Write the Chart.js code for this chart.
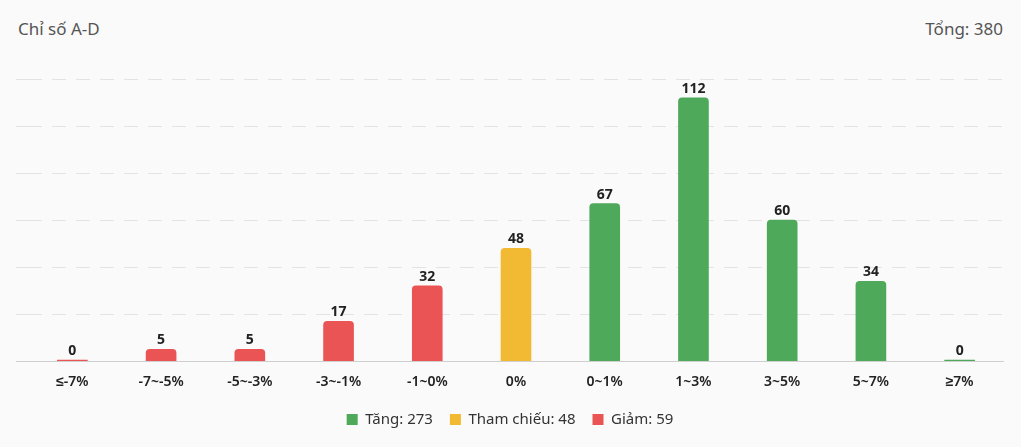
<!DOCTYPE html>
<html>
<head>
<meta charset="utf-8">
<script src="https://cdn.jsdelivr.net/npm/chart.js@4"></script>
<style>
  html, body { margin: 0; padding: 0; background: #fafafa; }
  .wrap { position: relative; width: 1021px; height: 447px; font-family: 'Noto Sans', sans-serif; }
  .head { position: absolute; top: 17px; font-size: 17px; color: #555; line-height: 23px; }
  #title { left: 18px; }
  #total { right: 18px; }
  canvas { position: absolute; left: 0; top: 0; }
</style>
</head>
<body>
<div class="wrap">
  <div class="head" id="title">Chỉ số A-D</div>
  <div class="head" id="total"></div>
  <canvas id="adChart" width="1021" height="447"></canvas>
</div>
<script>
const categories = ["≤-7%", "-7~-5%", "-5~-3%", "-3~-1%", "-1~0%", "0%", "0~1%", "1~3%", "3~5%", "5~7%", "≥7%"];
const upValues   = [null, null, null, null, null, null, 67, 112, 60, 34, 0];
const flatValues = [null, null, null, null, null, 48, null, null, null, null, null];
const downValues = [0, 5, 5, 17, 32, null, null, null, null, null, null];

const sum = (arr) => arr.reduce((acc, v) => acc + (v || 0), 0);
const upTotal = sum(upValues);
const flatTotal = sum(flatValues);
const downTotal = sum(downValues);
document.getElementById("total").textContent = "Tổng: " + (upTotal + flatTotal + downTotal);

Chart.defaults.font.family = "'Noto Sans', sans-serif";

// value labels above the bars
const valueLabels = {
  id: "valueLabels",
  afterDatasetsDraw(chart) {
    const ctx = chart.ctx;
    ctx.save();
    ctx.font = "bold 14px 'Noto Sans', sans-serif";
    ctx.fillStyle = "#222";
    ctx.textAlign = "center";
    ctx.textBaseline = "bottom";
    chart.data.datasets.forEach((ds, i) => {
      chart.getDatasetMeta(i).data.forEach((bar, j) => {
        if (ds.data[j] === null) return;
        ctx.fillText(ds.data[j], bar.x, bar.y - 2);
      });
    });
    ctx.restore();
  },
};

const barStyle = {
  barThickness: 30,
  minBarLength: 1,
  borderRadius: { topLeft: 4, topRight: 4 },
  borderSkipped: "bottom",
};

new Chart(document.getElementById("adChart"), {
  type: "bar",
  data: {
    labels: categories,
    datasets: [
      { label: "Tăng: " + upTotal, data: upValues, backgroundColor: "#4fa95b", ...barStyle },
      { label: "Tham chiếu: " + flatTotal, data: flatValues, backgroundColor: "#f2b933", ...barStyle },
      { label: "Giảm: " + downTotal, data: downValues, backgroundColor: "#eb5454", ...barStyle },
    ],
  },
  options: {
    responsive: false,
    animation: false,
    layout: { padding: { top: 79, left: 16, right: 17, bottom: 10 } },
    datasets: { bar: { skipNull: true } },
    scales: {
      x: {
        grid: { display: false, drawTicks: false },
        border: { display: false },
        ticks: { color: "#222", font: { size: 14, weight: "600" }, padding: 12 },
        afterFit: (scale) => { scale.height -= 7; },
      },
      y: {
        min: 0,
        max: 120,
        ticks: { display: false, stepSize: 20 },
        grid: {
          drawTicks: true,
          tickLength: 12,
          color: (c) => (c.tick && c.tick.value === 0 ? "#cfcfcf" : "#e3e3e3"),
        },
        border: {
          display: false,
          dash: (c) => (c.tick && c.tick.value === 0 ? [] : [14, 10]),
        },
      },
    },
    plugins: {
      tooltip: { enabled: false },
      legend: {
        position: "bottom",
        labels: {
          boxWidth: 11,
          boxHeight: 11,
          padding: 17,
          color: "#333",
          font: { size: 15 },
        },
      },
    },
  },
  plugins: [valueLabels],
});
</script>
</body>
</html>
